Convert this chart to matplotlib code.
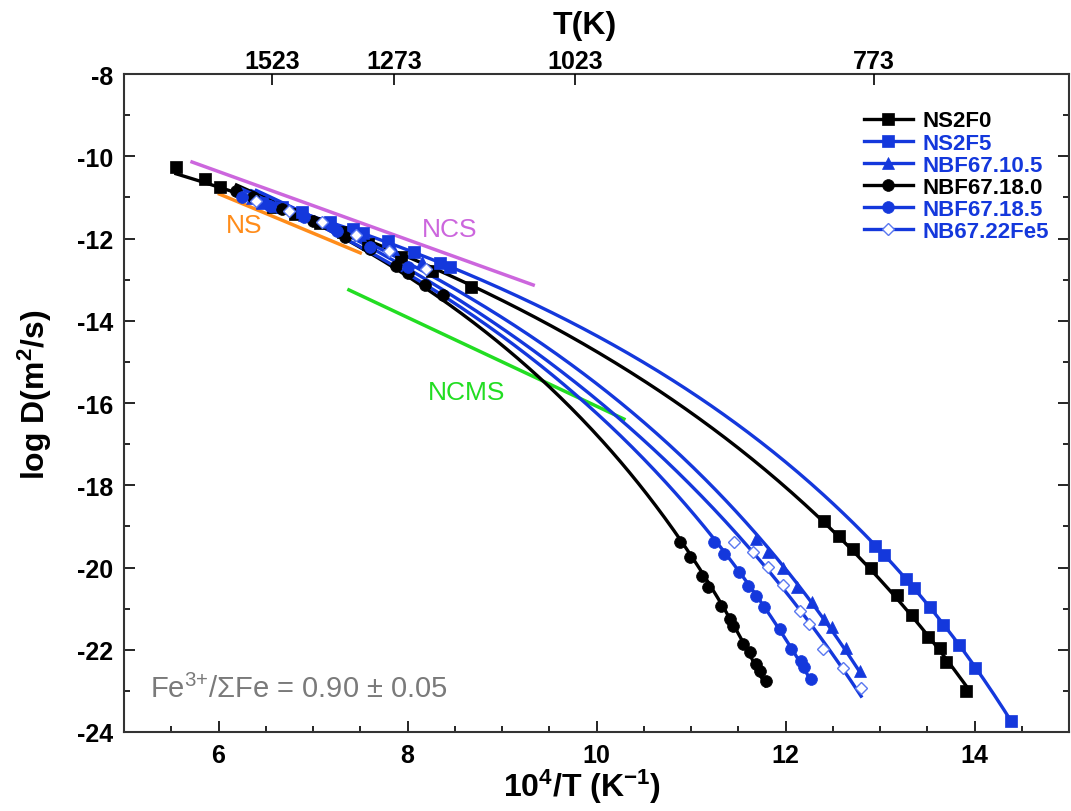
import numpy as np
import matplotlib.pyplot as plt
from matplotlib.lines import Line2D
from matplotlib.ticker import MultipleLocator

plt.rcParams['font.family'] = ['Liberation Sans', 'DejaVu Sans']
plt.rcParams['axes.unicode_minus'] = False
plt.rcParams['mathtext.fontset'] = 'custom'
plt.rcParams['mathtext.rm'] = 'Liberation Sans'
plt.rcParams['mathtext.bf'] = 'Liberation Sans:bold'
plt.rcParams['mathtext.it'] = 'Liberation Sans:italic'

blue = '#1438dc'

# %% Data (10^4/T, log D)
ns2f0_x = [5.55, 5.86, 6.02, 6.58, 6.81, 7.07, 7.32, 7.58, 7.93, 8.26, 8.67,
           12.41, 12.57, 12.71, 12.91, 13.18, 13.34, 13.51, 13.63, 13.70, 13.91]
ns2f0_y = [-10.26, -10.55, -10.75, -11.23, -11.40, -11.62, -11.84, -12.13, -12.45, -12.79, -13.18,
           -18.87, -19.23, -19.55, -20.01, -20.67, -21.16, -21.69, -21.96, -22.30, -23.00]

ns2f5_x = [6.46, 6.67, 6.88, 7.18, 7.42, 7.53, 7.79, 8.07, 8.34, 8.45,
           12.95, 13.04, 13.28, 13.36, 13.53, 13.67, 13.84, 14.01, 14.39]
ns2f5_y = [-11.14, -11.23, -11.36, -11.60, -11.77, -11.87, -12.06, -12.33, -12.60, -12.69,
           -19.48, -19.70, -20.28, -20.50, -20.96, -21.40, -21.88, -22.44, -23.73]

nbf1005_x = [6.35, 6.60, 6.90, 7.20, 7.50, 7.85, 8.15,
             11.69, 11.82, 11.97, 12.12, 12.28, 12.41, 12.49, 12.64, 12.79]
nbf1005_y = [-11.02, -11.20, -11.42, -11.65, -11.92, -12.25, -12.58,
             -19.31, -19.62, -20.01, -20.47, -20.84, -21.25, -21.45, -21.96, -22.52]

nbf1800_x = [6.19, 6.36, 6.67, 7.00, 7.34, 7.60, 7.88, 8.00, 8.19, 8.38,
             10.88, 10.99, 11.12, 11.18, 11.32, 11.41, 11.44, 11.55, 11.62, 11.69, 11.73, 11.79]
nbf1800_y = [-10.85, -11.00, -11.28, -11.57, -11.96, -12.25, -12.67, -12.84, -13.13, -13.37,
             -19.38, -19.74, -20.21, -20.47, -20.94, -21.25, -21.42, -21.86, -22.05, -22.35, -22.52, -22.76]

nbf1805_x = [6.25, 6.55, 6.90, 7.25, 7.60, 8.00,
             11.24, 11.35, 11.51, 11.60, 11.69, 11.77, 11.94, 12.06, 12.16, 12.20, 12.27]
nbf1805_y = [-10.98, -11.20, -11.48, -11.82, -12.20, -12.70,
             -19.38, -19.67, -20.11, -20.45, -20.69, -20.96, -21.50, -21.98, -22.27, -22.42, -22.71]

nb22_x = [6.40, 6.75, 7.10, 7.45, 7.80, 8.20,
          11.45, 11.66, 11.81, 11.97, 12.15, 12.25, 12.40, 12.61, 12.80]
nb22_y = [-11.08, -11.33, -11.60, -11.92, -12.30, -12.75,
          -19.38, -19.62, -19.99, -20.43, -21.06, -21.37, -21.98, -22.44, -22.93]

# reference lines from literature
ns_x, ns_y = [6.01, 7.50], [-10.92, -12.35]
ncs_x, ncs_y = [5.72, 9.33], [-10.14, -13.13]
ncms_x, ncms_y = [7.38, 10.29], [-13.25, -16.39]

top_T = [1523, 1273, 1023, 773]


def vft_fit(x, y, n=300):
    # log D = A - B/(T - T0), grid over T0
    T = 1e4 / np.asarray(x)
    y = np.asarray(y)
    best = None
    for T0 in np.linspace(0, T.min() - 20, 500):
        u = 1.0 / (T - T0)
        B, A = np.polyfit(u, y, 1)
        res = np.sum((A + B * u - y) ** 2)
        if best is None or res < best[0]:
            best = (res, A, B, T0)
    _, A, B, T0 = best
    xs = np.linspace(min(x), max(x), n)
    return xs, A + B / (1e4 / xs - T0)


series = [
    ('NS2F0', ns2f0_x, ns2f0_y, 'black', 's', 'black', 'black', 8.5),
    ('NS2F5', ns2f5_x, ns2f5_y, blue, 's', blue, blue, 8.5),
    ('NBF67.10.5', nbf1005_x, nbf1005_y, blue, '^', blue, blue, 8.5),
    ('NBF67.18.0', nbf1800_x, nbf1800_y, 'black', 'o', 'black', 'black', 8.5),
    ('NBF67.18.5', nbf1805_x, nbf1805_y, blue, 'o', blue, blue, 8.5),
    ('NB67.22Fe5', nb22_x, nb22_y, blue, 'D', 'white', '#5a78f0', 6.5),
]

# %% Plotting
fig = plt.figure(figsize=(10.71, 8.12), dpi=100)
ax = fig.add_axes([124 / 1071, 79 / 812, 945 / 1071, 658 / 812])

ax.plot(ns_x, ns_y, color='#ff8c1a', lw=2.5)
ax.plot(ncs_x, ncs_y, color='#cc66dd', lw=2.5)
ax.plot(ncms_x, ncms_y, color='#22dd22', lw=2.5)
ax.text(6.27, -11.67, 'NS', color='#ff8c1a', fontsize=19, ha='center', va='center')
ax.text(8.45, -11.77, 'NCS', color='#cc66dd', fontsize=19, ha='center', va='center')
ax.text(8.62, -15.73, 'NCMS', color='#22dd22', fontsize=19, ha='center', va='center')

handles = []
for name, x, y, c, m, mfc, mec, ms in series:
    xs, ys = vft_fit(x, y)
    ax.plot(xs, ys, color=c, lw=2.4, zorder=3)
    mew = 1.0 if mfc == 'white' else 0.5
    ax.plot(x, y, ls='none', marker=m, ms=ms, mfc=mfc, mec=mec, mew=mew, zorder=4)
    handles.append(Line2D([], [], color=c, lw=2.4, marker=m, ms=ms, mfc=mfc, mec=mec, mew=mew))

leg = ax.legend(handles, [s[0] for s in series], loc='upper right', bbox_to_anchor=(1.0, 0.975),
                frameon=False, handlelength=2.2, handletextpad=0.45, labelspacing=0.05,
                prop={'weight': 'bold', 'size': 16})
for txt, s in zip(leg.get_texts(), series):
    txt.set_color(s[3])

ax.text(5.27, -22.95, 'Fe$^{3{+}}$/\u03a3Fe = 0.90 \u00b1 0.05', color='#7a7a7a', fontsize=21,
        ha='left', va='center')

ax.set_xlim(5, 15)
ax.set_ylim(-24, -8)
ax.set_xticks([6, 8, 10, 12, 14])
ax.set_yticks(np.arange(-24, -7, 2))
ax.xaxis.set_minor_locator(MultipleLocator(0.5))
ax.yaxis.set_minor_locator(MultipleLocator(1))
ax.tick_params(which='both', direction='in', right=True, top=False, width=1.2)
ax.tick_params(which='major', length=8, labelsize=18, pad=8)
ax.tick_params(which='minor', length=4)
for lab in ax.get_xticklabels() + ax.get_yticklabels():
    lab.set_fontweight('bold')
for sp in ax.spines.values():
    sp.set_linewidth(1.5)
    sp.set_color('#333333')

ax.set_xlabel('10$^{\\mathbf{4}}$/T (K$^{\\mathbf{-1}}$)', fontsize=23, fontweight='bold')
ax.set_ylabel('log D(m$^{\\mathbf{2}}$/s)', fontsize=23, fontweight='bold')
ax.xaxis.set_label_coords(0.485, -0.053)
ax.yaxis.set_label_coords(-0.074, 0.514)

ax2 = ax.twiny()
ax2.set_xlim(ax.get_xlim())
ax2.set_xticks([1e4 / t for t in top_T])
ax2.set_xticklabels([str(t) for t in top_T], fontweight='bold')
ax2.tick_params(direction='in', length=8, width=1.2, labelsize=18, pad=1)
for sp in ax2.spines.values():
    sp.set_visible(False)
ax2.set_xlabel('T(K)', fontsize=23, fontweight='bold')
ax2.xaxis.set_label_coords(0.488, 1.062)

fig.savefig('out.png', dpi=100)
